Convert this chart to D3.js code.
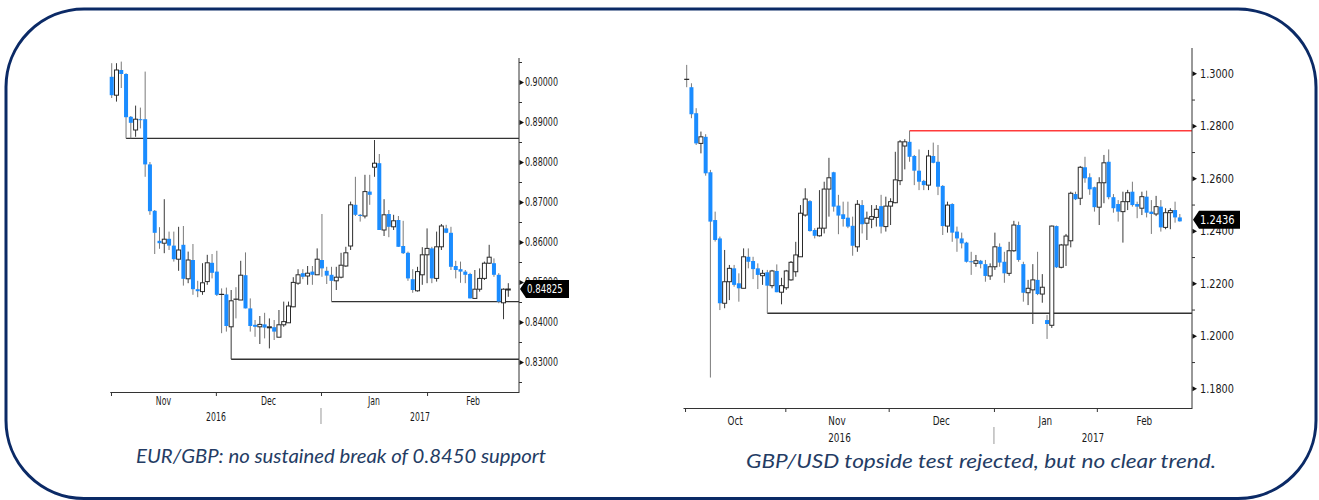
<!DOCTYPE html>
<html><head><meta charset="utf-8">
<script src="https://cdn.jsdelivr.net/npm/d3@7"></script>
<style>
html,body{margin:0;padding:0;background:#fff;}
svg{display:block;}
.ax text{font-family:"Liberation Sans Narrow","DejaVu Sans Condensed","Liberation Sans",sans-serif;fill:#1a1a1a;}
.cap{font-family:Lato,"Open Sans",sans-serif;font-style:italic;fill:#243c64;}
</style></head><body>
<svg id="c" width="1319" height="500"></svg>
<script>
// ---------- EUR/GBP daily candles (Nov 2016 - Feb 2017) ----------
const eurOpen  = [0.9013,0.8967,0.9030,0.9020,0.8913,0.8880,0.8907,0.8907,0.8794,0.8678,0.8603,0.8597,0.8608,0.8591,0.8557,0.8593,0.8508,0.8555,0.8482,0.8476,0.8501,0.8548,0.8526,0.8469,0.8469,0.8388,0.8457,0.8455,0.8517,0.8434,0.8393,0.8388,0.8394,0.8386,0.8387,0.8362,0.8393,0.8398,0.8438,0.8497,0.8522,0.8515,0.8526,0.8518,0.8555,0.8528,0.8518,0.8503,0.8512,0.8540,0.8590,0.8693,0.8668,0.8665,0.8726,0.8787,0.8797,0.8630,0.8670,0.8638,0.8655,0.8590,0.8573,0.8507,0.8478,0.8518,0.8568,0.8584,0.8509,0.8588,0.8634,0.8623,0.8540,0.8532,0.8526,0.8520,0.8459,0.8482,0.8509,0.8547,0.8547,0.8518,0.8448,0.8482];
const eurHigh  = [0.9047,0.9047,0.9051,0.9022,0.8915,0.8941,0.8936,0.9026,0.8800,0.8680,0.8637,0.8707,0.8626,0.8626,0.8638,0.8640,0.8576,0.8595,0.8503,0.8547,0.8568,0.8570,0.8578,0.8484,0.8486,0.8480,0.8487,0.8553,0.8574,0.8459,0.8405,0.8415,0.8423,0.8409,0.8405,0.8430,0.8451,0.8451,0.8512,0.8532,0.8532,0.8540,0.8540,0.8584,0.8670,0.8538,0.8538,0.8538,0.8573,0.8588,0.8701,0.8763,0.8670,0.8768,0.8768,0.8855,0.8820,0.8707,0.8680,0.8668,0.8665,0.8653,0.8576,0.8532,0.8538,0.8587,0.8634,0.8588,0.8626,0.8645,0.8643,0.8638,0.8553,0.8551,0.8530,0.8523,0.8530,0.8534,0.8551,0.8593,0.8559,0.8522,0.8484,0.8497];
const eurLow   = [0.8960,0.8951,0.8985,0.8859,0.8859,0.8863,0.8884,0.8763,0.8668,0.8570,0.8583,0.8572,0.8580,0.8551,0.8528,0.8491,0.8497,0.8468,0.8462,0.8468,0.8493,0.8509,0.8465,0.8372,0.8376,0.8307,0.8409,0.8455,0.8434,0.8376,0.8363,0.8345,0.8359,0.8334,0.8355,0.8362,0.8388,0.8398,0.8437,0.8493,0.8507,0.8493,0.8493,0.8518,0.8513,0.8495,0.8451,0.8480,0.8509,0.8538,0.8580,0.8665,0.8651,0.8659,0.8693,0.8763,0.8630,0.8615,0.8612,0.8630,0.8588,0.8570,0.8503,0.8473,0.8476,0.8493,0.8497,0.8497,0.8501,0.8580,0.8622,0.8530,0.8509,0.8498,0.8497,0.8459,0.8459,0.8476,0.8505,0.8545,0.8513,0.8447,0.8407,0.8463];
const eurClose = [0.8967,0.9030,0.9020,0.8912,0.8898,0.8907,0.8906,0.8794,0.8677,0.8623,0.8597,0.8607,0.8591,0.8557,0.8580,0.8508,0.8555,0.8482,0.8477,0.8498,0.8548,0.8523,0.8468,0.8469,0.8390,0.8453,0.8457,0.8517,0.8434,0.8390,0.8388,0.8394,0.8386,0.8388,0.8376,0.8393,0.8401,0.8440,0.8499,0.8518,0.8513,0.8522,0.8518,0.8557,0.8534,0.8516,0.8503,0.8512,0.8542,0.8573,0.8693,0.8668,0.8665,0.8726,0.8718,0.8797,0.8630,0.8668,0.8638,0.8653,0.8588,0.8572,0.8509,0.8480,0.8526,0.8568,0.8584,0.8509,0.8588,0.8640,0.8623,0.8538,0.8530,0.8526,0.8518,0.8459,0.8482,0.8509,0.8547,0.8562,0.8518,0.8451,0.8482,0.84825];
const eurLevelValues = [0.8859, 0.8307, 0.8451];
const eurLevelStart  = [3, 25, 46];
const eurYTicks  = [0.83,0.84,0.85,0.86,0.87,0.88,0.89,0.90];
const eurYMinor  = [0.825,0.835,0.845,0.855,0.865,0.875,0.885,0.895,0.905];
const eurMonthBounds = [-0.15, 21.8, 43.8, 66.0];
const eurMonthLabels = ["Nov","Dec","Jan","Feb"];
const eurYearLabels  = ["2016","2017"];
const eurLast = "0.84825";

// ---------- GBP/USD daily candles (Oct 2016 - Feb 2017) ----------
const gbpOpen  = [1.2977,1.2947,1.2848,1.2733,1.2758,1.2623,1.2441,1.2371,1.2124,1.2206,1.2257,1.2200,1.2181,1.2301,1.2285,1.2257,1.2229,1.2242,1.2191,1.2247,1.2166,1.2183,1.2213,1.2244,1.2301,1.2460,1.2513,1.2403,1.2381,1.2410,1.2559,1.2623,1.2496,1.2463,1.2450,1.2419,1.2339,1.2498,1.2429,1.2444,1.2451,1.2494,1.2416,1.2494,1.2507,1.2591,1.2723,1.2739,1.2685,1.2629,1.2590,1.2574,1.2685,1.2663,1.2571,1.2418,1.2502,1.2397,1.2371,1.2355,1.2284,1.2276,1.2286,1.2273,1.2228,1.2263,1.2339,1.2282,1.2238,1.2324,1.2422,1.2273,1.2164,1.2175,1.2213,1.2159,1.2060,1.2040,1.2418,1.2261,1.2346,1.2362,1.2540,1.2524,1.2642,1.2604,1.2566,1.2490,1.2583,1.2663,1.2528,1.2502,1.2473,1.2511,1.2549,1.2502,1.2486,1.2530,1.2473,1.2464,1.2492,1.2413,1.2469,1.2479,1.2451];
const gbpHigh  = [1.3032,1.2962,1.2867,1.2778,1.2768,1.2632,1.2473,1.2378,1.2327,1.2270,1.2270,1.2238,1.2333,1.2333,1.2301,1.2276,1.2251,1.2251,1.2251,1.2272,1.2221,1.2251,1.2285,1.2358,1.2498,1.2562,1.2517,1.2410,1.2555,1.2587,1.2678,1.2625,1.2537,1.2511,1.2511,1.2454,1.2517,1.2517,1.2473,1.2498,1.2498,1.2537,1.2530,1.2524,1.2701,1.2746,1.2749,1.2781,1.2689,1.2710,1.2594,1.2708,1.2736,1.2727,1.2574,1.2511,1.2505,1.2416,1.2393,1.2358,1.2320,1.2308,1.2289,1.2289,1.2276,1.2393,1.2352,1.2320,1.2358,1.2438,1.2435,1.2282,1.2213,1.2273,1.2320,1.2235,1.2079,1.2420,1.2420,1.2350,1.2388,1.2549,1.2549,1.2647,1.2682,1.2619,1.2568,1.2604,1.2689,1.2710,1.2540,1.2517,1.2549,1.2556,1.2587,1.2511,1.2549,1.2553,1.2517,1.2533,1.2517,1.2486,1.2486,1.2511,1.2464];
const gbpLow   = [1.2947,1.2829,1.2727,1.2695,1.2610,1.1841,1.2359,1.2098,1.2105,1.2136,1.2187,1.2130,1.2181,1.2257,1.2216,1.2178,1.2194,1.2086,1.2181,1.2166,1.2120,1.2175,1.2210,1.2225,1.2301,1.2454,1.2397,1.2371,1.2378,1.2390,1.2454,1.2473,1.2387,1.2416,1.2410,1.2305,1.2320,1.2390,1.2365,1.2410,1.2416,1.2390,1.2397,1.2422,1.2505,1.2574,1.2634,1.2663,1.2574,1.2555,1.2555,1.2555,1.2657,1.2536,1.2384,1.2393,1.2358,1.2320,1.2333,1.2279,1.2232,1.2263,1.2257,1.2206,1.2213,1.2251,1.2263,1.2202,1.2228,1.2320,1.2282,1.2130,1.2117,1.2045,1.2155,1.2126,1.1988,1.2030,1.2258,1.2257,1.2266,1.2337,1.2517,1.2498,1.2583,1.2537,1.2473,1.2422,1.2505,1.2520,1.2469,1.2435,1.2355,1.2479,1.2492,1.2448,1.2460,1.2451,1.2388,1.2456,1.2397,1.2406,1.2406,1.2431,1.2435];
const gbpClose = [1.2977,1.2844,1.2733,1.2758,1.2619,1.2435,1.2365,1.2124,1.2206,1.2257,1.2194,1.2181,1.2301,1.2282,1.2254,1.2232,1.2238,1.2191,1.2247,1.2166,1.2191,1.2247,1.2280,1.2308,1.2467,1.2521,1.2399,1.2381,1.2410,1.2559,1.2602,1.2492,1.2458,1.2445,1.2416,1.2343,1.2501,1.2425,1.2448,1.2454,1.2482,1.2416,1.2494,1.2511,1.2594,1.2739,1.2739,1.2682,1.2629,1.2587,1.2574,1.2685,1.2659,1.2568,1.2418,1.2498,1.2393,1.2371,1.2352,1.2282,1.2282,1.2286,1.2273,1.2228,1.2263,1.2339,1.2279,1.2238,1.2324,1.2422,1.2289,1.2164,1.2181,1.2213,1.2159,1.2185,1.2045,1.2418,1.2261,1.2346,1.2380,1.2543,1.2520,1.2642,1.2600,1.2558,1.2490,1.2583,1.2659,1.2528,1.2486,1.2473,1.2511,1.2545,1.2498,1.2492,1.2530,1.2469,1.2464,1.2492,1.2413,1.2469,1.2477,1.2451,1.2436];
const gbpLevelValues = [1.2781, 1.2086];
const gbpLevelStart  = [47, 17];
const gbpYTicks = [1.18,1.20,1.22,1.24,1.26,1.28,1.30];
const gbpYMinor = [1.19,1.21,1.23,1.25,1.27,1.29];
const gbpMonthBounds = [-0.35, 20.8, 42.6, 64.8, 86.5];
const gbpMonthLabels = ["Oct","Nov","Dec","Jan","Feb"];
const gbpYearLabels  = ["2016","2017"];
const gbpLast = "1.2436";

const svg = d3.select("#c");
const NARROW = '"Liberation Sans Narrow","DejaVu Sans Condensed",sans-serif';

// frame
svg.append("rect").attr("x",6).attr("y",9).attr("width",1310).attr("height",489.5)
  .attr("rx",78).attr("ry",78).attr("fill","none").attr("stroke","#0b2a66").attr("stroke-width",3);

function drawChart(o){
  const g = svg.append("g");
  const x = d3.scaleLinear().domain(o.xDomain).range([o.left, o.axisX]);
  const y = d3.scaleLinear().domain(o.yDomain).range(o.yRange);
  const n = o.open.length;
  const idx = d3.range(n);

  // level lines
  o.levels.forEach((v,k)=>{
    g.append("line").attr("x1",x(o.levelStart[k])).attr("x2",o.axisX)
      .attr("y1",y(v)).attr("y2",y(v))
      .attr("stroke",o.levelColors[k]).attr("stroke-width",1.4);
  });

  // wicks
  g.append("g").selectAll("line").data(idx).join("line")
    .attr("x1",i=>x(i)).attr("x2",i=>x(i))
    .attr("y1",i=>y(o.high[i])).attr("y2",i=>y(o.low[i]))
    .attr("stroke",i=>o.close[i]>o.open[i]?"#3a3a3a":"#7a7a7a").attr("stroke-width",1);

  // bodies
  const bw = o.bodyW;
  g.append("g").selectAll("rect").data(idx.filter(i=>o.close[i]!==o.open[i])).join("rect")
    .attr("x",i=>x(i)-bw/2)
    .attr("y",i=>y(Math.max(o.open[i],o.close[i])))
    .attr("width",bw)
    .attr("height",i=>Math.max(1,Math.abs(y(o.open[i])-y(o.close[i]))))
    .attr("fill",i=>o.close[i]>o.open[i]?"#ffffff":"#1a8cff")
    .attr("stroke",i=>o.close[i]>o.open[i]?"#2a2a2a":"none")
    .attr("stroke-width",1);
  // doji
  g.append("g").selectAll("line").data(idx.filter(i=>o.close[i]===o.open[i])).join("line")
    .attr("x1",i=>x(i)-bw/2-0.5).attr("x2",i=>x(i)+bw/2+0.5)
    .attr("y1",i=>y(o.close[i])).attr("y2",i=>y(o.close[i]))
    .attr("stroke","#222").attr("stroke-width",1.2);

  // y axis
  const ax = g.append("g").attr("class","ax");
  ax.append("line").attr("x1",o.axisX).attr("x2",o.axisX).attr("y1",o.axisTop).attr("y2",o.axisBottom)
    .attr("stroke","#333").attr("stroke-width",1);
  const yA = ax.append("g").attr("transform",`translate(${o.axisX},0)`)
    .call(d3.axisRight(y).tickValues(o.yTicks).tickSize(0).tickPadding(o.labelPad).tickFormat(d3.format(o.yFmt)));
  yA.select(".domain").remove();
  yA.selectAll("text").attr("font-size",o.yFont).attr("fill","#1a1a1a").attr("font-family",NARROW)
    .attr("x",0).attr("transform",`translate(${o.labelPad},0) scale(${o.yScaleX},1)`);
  yA.selectAll(".tick").append("path").attr("d","M0.5,-2.5L5,0L0.5,2.5Z").attr("fill","#111");
  const yM = ax.append("g").attr("transform",`translate(${o.axisX},0)`)
    .call(d3.axisRight(y).tickValues(o.yMinor).tickSize(3).tickFormat(""));
  yM.select(".domain").remove();
  yM.selectAll("line").attr("stroke","#333");

  // x axis
  const xA = ax.append("g").attr("transform",`translate(0,${o.axisBottom})`)
    .call(d3.axisBottom(x).tickValues(o.monthBounds).tickSize(4).tickSizeOuter(0).tickFormat(""));
  xA.select(".domain").attr("stroke","#333");
  xA.selectAll(".tick line").attr("stroke","#333");
  const bounds = o.monthBounds.concat([o.xDomain[1]]);
  const lbl = (cx, cy, t) => ax.append("text")
    .attr("transform",`translate(${cx},${cy}) scale(${o.xScaleX},1)`)
    .attr("text-anchor","middle").attr("font-size",o.xFont).attr("font-family",NARROW).text(t);
  o.monthLabels.forEach((m,k)=> lbl(x((bounds[k]+bounds[k+1])/2), o.monthY, m));
  const yb = o.monthBounds[o.yearSplit];
  lbl(x((o.monthBounds[0]+yb)/2), o.yearY, o.yearLabels[0]);
  lbl(x((yb+o.xDomain[1])/2), o.yearY, o.yearLabels[1]);
  ax.append("line").attr("x1",x(yb)).attr("x2",x(yb)).attr("y1",o.sepY[0]).attr("y2",o.sepY[1])
    .attr("stroke","#999").attr("stroke-width",1);

  // last price tag
  const lv = +o.last, ly = y(lv) + o.tagDy;
  const tx = o.axisX+1;
  g.append("path").attr("d",`M${tx},${ly}L${tx+6},${ly-9}L${tx+o.tagW},${ly-9}L${tx+o.tagW},${ly+9}L${tx+6},${ly+9}Z`)
    .attr("fill","#000");
  g.append("text").attr("transform",`translate(${tx+7},${ly}) scale(${o.tagScaleX},1)`)
    .attr("dy","0.36em").attr("fill","#fff")
    .attr("font-size",o.tagFont).attr("font-family",NARROW)
    .text(o.last);

  // caption
  svg.append("text").attr("class","cap").attr("x",o.capX).attr("y",o.capY)
    .attr("text-anchor","middle").attr("font-size",o.capFont)
    .attr("textLength",o.capW).attr("lengthAdjust","spacingAndGlyphs").text(o.caption);
}

drawChart({
  open:eurOpen, high:eurHigh, low:eurLow, close:eurClose,
  xDomain:[-0.4, 85.24], left:109.8, axisX:519,
  yDomain:[0.83,0.90], yRange:[362,82],
  axisTop:58, axisBottom:392, bodyW:4,
  levels:eurLevelValues, levelStart:eurLevelStart, levelColors:["#333","#333","#333"],
  yTicks:eurYTicks, yMinor:eurYMinor, yFmt:".5f", yFont:12, labelPad:6, yScaleX:0.74,
  monthBounds:eurMonthBounds, monthLabels:eurMonthLabels, yearLabels:eurYearLabels, yearSplit:2,
  monthY:405, yearY:421, xFont:12, xScaleX:0.72, sepY:[408,424],
  last:eurLast, tagW:49, tagFont:12, tagScaleX:0.8, tagDy:0,
  caption:"EUR/GBP: no sustained break of 0.8450 support", capX:341, capY:463, capFont:20, capW:410
});
drawChart({
  open:gbpOpen, high:gbpHigh, low:gbpLow, close:gbpClose,
  xDomain:[-0.78, 106.57], left:683, axisX:1192,
  yDomain:[1.18,1.30], yRange:[388.3,73.3],
  axisTop:48, axisBottom:408, bodyW:4,
  levels:gbpLevelValues, levelStart:gbpLevelStart, levelColors:["#ff3b3b","#333"],
  yTicks:gbpYTicks, yMinor:gbpYMinor, yFmt:".4f", yFont:12, labelPad:8, yScaleX:0.9,
  monthBounds:gbpMonthBounds, monthLabels:gbpMonthLabels, yearLabels:gbpYearLabels, yearSplit:3,
  monthY:425, yearY:442, xFont:12, xScaleX:0.82, sepY:[427,444],
  last:gbpLast, tagW:47, tagFont:12.5, tagScaleX:0.88, tagDy:-1.5,
  caption:"GBP/USD topside test rejected, but no clear trend.", capX:981, capY:468, capFont:20, capW:470
});
</script>
</body></html>
